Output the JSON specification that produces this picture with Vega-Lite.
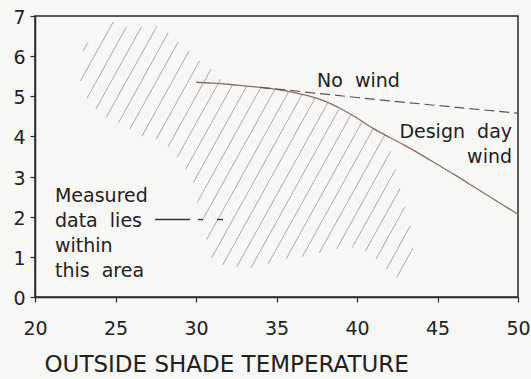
{
  "$schema": "https://vega.github.io/schema/vega-lite/v6.json",
  "width": 483,
  "height": 281,
  "autosize": {"type": "none"},
  "padding": {"left": 35, "top": 16, "right": 13, "bottom": 82},
  "background": "#f7f7f5",
  "config": {
    "view": {"stroke": "#2a2a2a", "strokeWidth": 1.5},
    "font": "DejaVu Sans",
    "axis": {"grid": false, "domainColor": "#2a2a2a", "domainWidth": 1.5, "tickColor": "#2a2a2a", "tickWidth": 1.2, "tickSize": 5, "labelColor": "#222222", "labelFont": "DejaVu Sans", "labelFontSize": 19, "titleFont": "DejaVu Sans", "titleColor": "#222222", "titleFontWeight": "normal"}
  },
  "datasets": {
    "hatch": [
      {"t": 22.99, "v": 6.13, "t2": 23.30, "v2": 6.35},
      {"t": 22.82, "v": 5.38, "t2": 24.86, "v2": 6.85},
      {"t": 23.23, "v": 4.95, "t2": 25.68, "v2": 6.73},
      {"t": 23.78, "v": 4.68, "t2": 26.61, "v2": 6.73},
      {"t": 24.43, "v": 4.48, "t2": 27.58, "v2": 6.75},
      {"t": 25.20, "v": 4.35, "t2": 28.27, "v2": 6.58},
      {"t": 25.89, "v": 4.18, "t2": 28.89, "v2": 6.35},
      {"t": 26.64, "v": 4.00, "t2": 29.57, "v2": 6.13},
      {"t": 27.53, "v": 3.93, "t2": 30.22, "v2": 5.88},
      {"t": 28.28, "v": 3.75, "t2": 30.94, "v2": 5.68},
      {"t": 28.83, "v": 3.48, "t2": 31.53, "v2": 5.43},
      {"t": 29.35, "v": 3.18, "t2": 32.28, "v2": 5.29},
      {"t": 29.83, "v": 2.85, "t2": 33.16, "v2": 5.26},
      {"t": 30.07, "v": 2.35, "t2": 34.04, "v2": 5.23},
      {"t": 30.35, "v": 1.88, "t2": 34.91, "v2": 5.18},
      {"t": 30.66, "v": 1.43, "t2": 35.76, "v2": 5.12},
      {"t": 30.98, "v": 0.98, "t2": 36.58, "v2": 5.04},
      {"t": 31.66, "v": 0.80, "t2": 37.39, "v2": 4.95},
      {"t": 32.53, "v": 0.75, "t2": 38.16, "v2": 4.82},
      {"t": 33.42, "v": 0.73, "t2": 38.88, "v2": 4.68},
      {"t": 34.49, "v": 0.83, "t2": 39.61, "v2": 4.53},
      {"t": 35.60, "v": 0.95, "t2": 40.33, "v2": 4.38},
      {"t": 36.60, "v": 1.00, "t2": 41.04, "v2": 4.22},
      {"t": 37.66, "v": 1.10, "t2": 41.73, "v2": 4.04},
      {"t": 38.74, "v": 1.20, "t2": 42.09, "v2": 3.63},
      {"t": 39.70, "v": 1.23, "t2": 42.40, "v2": 3.18},
      {"t": 40.53, "v": 1.15, "t2": 42.67, "v2": 2.70},
      {"t": 41.19, "v": 0.95, "t2": 42.98, "v2": 2.25},
      {"t": 41.84, "v": 0.70, "t2": 43.32, "v2": 1.78},
      {"t": 42.46, "v": 0.48, "t2": 43.49, "v2": 1.23}
    ],
    "design": [
      {"t": 30, "v": 5.35}, {"t": 31, "v": 5.33}, {"t": 32, "v": 5.30}, {"t": 33, "v": 5.26},
      {"t": 34, "v": 5.22}, {"t": 35, "v": 5.17}, {"t": 36, "v": 5.10}, {"t": 37, "v": 5.01},
      {"t": 38, "v": 4.88}, {"t": 39, "v": 4.69}, {"t": 40, "v": 4.46}, {"t": 41, "v": 4.20},
      {"t": 42, "v": 3.98}, {"t": 43, "v": 3.77}, {"t": 44, "v": 3.54}, {"t": 45, "v": 3.30},
      {"t": 46, "v": 3.06}, {"t": 47, "v": 2.81}, {"t": 48, "v": 2.56}, {"t": 49, "v": 2.31},
      {"t": 50, "v": 2.06}
    ],
    "nowind": [
      {"t": 34, "v": 5.22}, {"t": 35, "v": 5.18}, {"t": 40, "v": 4.97}, {"t": 45, "v": 4.77}, {"t": 50, "v": 4.58}
    ],
    "leader": [
      {"t": 27.45, "t2": 29.63, "v": 1.93},
      {"t": 30.12, "t2": 30.43, "v": 1.93},
      {"t": 31.30, "t2": 31.68, "v": 1.93}
    ],
    "leftText": [
      {"t": 21.24, "v": 2.375, "label": "Measured"},
      {"t": 21.24, "v": 1.75, "label": "data\u00a0\u00a0lies"},
      {"t": 21.24, "v": 1.125, "label": "within"},
      {"t": 21.24, "v": 0.5, "label": "this\u00a0\u00a0area"},
      {"t": 37.52, "v": 5.225, "label": "No\u00a0\u00a0wind"}
    ],
    "rightText": [
      {"t": 49.63, "v": 3.95, "label": "Design\u00a0\u00a0day"},
      {"t": 49.63, "v": 3.35, "label": "wind"}
    ]
  },
  "layer": [
    {
      "data": {"name": "hatch"},
      "mark": {"type": "rule", "color": "#bba3a3", "strokeWidth": 1},
      "encoding": {
        "x": {"field": "t", "type": "quantitative", "title": "OUTSIDE SHADE TEMPERATURE", "scale": {"domain": [20, 50], "nice": false, "zero": false},
          "axis": {"values": [20, 25, 30, 35, 40, 45, 50], "titleFontSize": 23, "titleAnchor": "start", "titleAlign": "left", "titleX": 9, "titleY": 74, "titleBaseline": "alphabetic", "labelPadding": 17, "labelFlush": false}},
        "y": {"field": "v", "type": "quantitative", "title": null, "scale": {"domain": [0, 7], "nice": false},
          "axis": {"values": [0, 1, 2, 3, 4, 5, 6, 7], "labelPadding": 5, "labelOffset": 1.5}},
        "x2": {"field": "t2"},
        "y2": {"field": "v2"}
      }
    },
    {
      "data": {"name": "design"},
      "mark": {"type": "line", "color": "#8a6e6e", "strokeWidth": 1.3, "interpolate": "monotone"},
      "encoding": {
        "x": {"field": "t", "type": "quantitative", "title": "OUTSIDE SHADE TEMPERATURE"},
        "y": {"field": "v", "type": "quantitative", "title": null}
      }
    },
    {
      "data": {"name": "nowind"},
      "mark": {"type": "line", "color": "#555555", "strokeWidth": 1.2, "strokeDash": [10, 5], "interpolate": "monotone"},
      "encoding": {
        "x": {"field": "t", "type": "quantitative", "title": "OUTSIDE SHADE TEMPERATURE"},
        "y": {"field": "v", "type": "quantitative", "title": null}
      }
    },
    {
      "data": {"name": "leader"},
      "mark": {"type": "rule", "color": "#333333", "strokeWidth": 1.3},
      "encoding": {
        "x": {"field": "t", "type": "quantitative", "title": "OUTSIDE SHADE TEMPERATURE"},
        "x2": {"field": "t2"},
        "y": {"field": "v", "type": "quantitative", "title": null}
      }
    },
    {
      "data": {"name": "leftText"},
      "mark": {"type": "text", "align": "left", "baseline": "alphabetic", "fontSize": 19, "color": "#222222", "font": "DejaVu Sans"},
      "encoding": {
        "x": {"field": "t", "type": "quantitative", "title": "OUTSIDE SHADE TEMPERATURE"},
        "y": {"field": "v", "type": "quantitative", "title": null},
        "text": {"field": "label"}
      }
    },
    {
      "data": {"name": "rightText"},
      "mark": {"type": "text", "align": "right", "baseline": "alphabetic", "fontSize": 19, "color": "#222222", "font": "DejaVu Sans"},
      "encoding": {
        "x": {"field": "t", "type": "quantitative", "title": "OUTSIDE SHADE TEMPERATURE"},
        "y": {"field": "v", "type": "quantitative", "title": null},
        "text": {"field": "label"}
      }
    }
  ]
}
